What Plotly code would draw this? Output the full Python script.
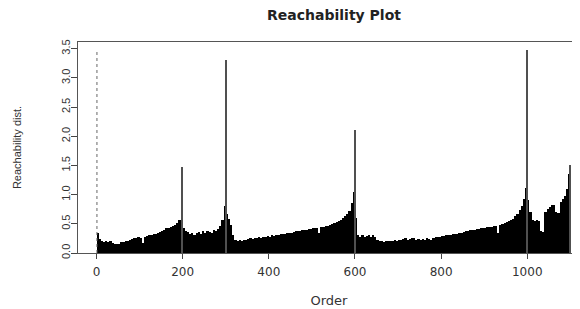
import plotly.graph_objects as go

# ---- data ----
bin_width = 5
# reachability distance per block of 5 consecutive orders, order 0..1100
reach = [
    # 0-100
    0.34, 0.24, 0.20, 0.19, 0.20, 0.19, 0.20, 0.17, 0.15, 0.15,
    0.16, 0.18, 0.19, 0.20, 0.21, 0.23, 0.24, 0.25, 0.26, 0.27,
    # 100-200
    0.26, 0.17, 0.28, 0.29, 0.30, 0.31, 0.32, 0.33, 0.35, 0.36,
    0.37, 0.39, 0.42, 0.43, 0.45, 0.46, 0.48, 0.52, 0.56, 0.66,
    # 200-300
    0.42, 0.38, 0.36, 0.33, 0.35, 0.31, 0.34, 0.36, 0.33, 0.37,
    0.35, 0.38, 0.36, 0.35, 0.39, 0.38, 0.41, 0.46, 0.56, 0.80,
    # 300-400
    0.66, 0.58, 0.48, 0.30, 0.22, 0.21, 0.22, 0.21, 0.23, 0.22,
    0.24, 0.25, 0.24, 0.26, 0.25, 0.27, 0.26, 0.28, 0.27, 0.29,
    # 400-500
    0.28, 0.30, 0.29, 0.31, 0.30, 0.32, 0.33, 0.32, 0.34, 0.35,
    0.34, 0.36, 0.37, 0.38, 0.38, 0.39, 0.40, 0.39, 0.41, 0.41,
    # 500-600
    0.42, 0.42, 0.43, 0.35, 0.44, 0.45, 0.46, 0.47, 0.48, 0.49,
    0.51, 0.53, 0.55, 0.57, 0.60, 0.63, 0.67, 0.72, 0.85, 1.05,
    # 600-700
    0.60, 0.30, 0.28, 0.30, 0.27, 0.29, 0.31, 0.27, 0.30, 0.28,
    0.22, 0.20, 0.21, 0.19, 0.20, 0.21, 0.20, 0.21, 0.22, 0.21,
    # 700-800
    0.23, 0.22, 0.24, 0.25, 0.23, 0.24, 0.26, 0.25, 0.23, 0.24,
    0.22, 0.24, 0.23, 0.25, 0.24, 0.22, 0.26, 0.27, 0.27, 0.28,
    # 800-900
    0.29, 0.29, 0.30, 0.31, 0.31, 0.32, 0.33, 0.33, 0.34, 0.35,
    0.36, 0.37, 0.38, 0.39, 0.39, 0.40, 0.41, 0.41, 0.42, 0.43,
    # 900-1000
    0.43, 0.44, 0.44, 0.45, 0.46, 0.46, 0.34, 0.48, 0.50, 0.51,
    0.53, 0.55, 0.57, 0.59, 0.63, 0.67, 0.73, 0.80, 0.92, 1.12,
    # 1000-1100
    0.90, 0.70, 0.57, 0.55, 0.56, 0.55, 0.38, 0.36, 0.70, 0.76,
    0.79, 0.82, 0.82, 0.70, 0.68, 0.88, 0.92, 0.98, 1.10, 1.35,
]
order = [bin_width * i + bin_width / 2 for i in range(len(reach))]

# isolated single-point peaks (order, reachability)
spike_order = [199.5, 299.5, 301.5, 599.5, 998.5, 1000.5, 1098.5]
spike_reach = [1.47, 1.88, 3.31, 2.10, 1.70, 3.48, 1.50]

# first point (undefined reachability, drawn dotted)
first_order = [1, 1]
first_reach = [0, 3.45]

x_ticks = [0, 200, 400, 600, 800, 1000]
y_ticks = [0, 0.5, 1, 1.5, 2, 2.5, 3, 3.5]
y_tick_text = ["0.0", "0.5", "1.0", "1.5", "2.0", "2.5", "3.0", "3.5"]

fig = go.Figure()
fig.add_trace(go.Bar(x=order, y=reach, width=bin_width,
                     marker=dict(color="black", line=dict(width=0)),
                     showlegend=False, hoverinfo="skip"))
fig.add_trace(go.Bar(x=spike_order, y=spike_reach, width=2.3,
                     marker=dict(color="#505050", line=dict(width=0)),
                     showlegend=False, hoverinfo="skip"))
fig.add_trace(go.Scatter(x=first_order, y=first_reach, mode="lines",
                         line=dict(color="#666666", width=1, dash="dot"),
                         showlegend=False, hoverinfo="skip"))

# page body has an 8px default margin: the figure is sized/placed to fit 580x309
W, H = 572, 301
fig.update_layout(
    width=W, height=H,
    margin=dict(l=70, r=0, t=34, b=56),
    paper_bgcolor="white", plot_bgcolor="white",
    barmode="overlay", bargap=0,
    title=dict(text="<b>Reachability Plot</b>", x=326 / W, xref="container",
               xanchor="center", y=1 - 2.5 / H, yref="container",
               yanchor="top",
               font=dict(family="DejaVu Sans", size=14, color="#222222")),
)
fig.update_xaxes(
    range=[-43, 1122.5], tickvals=x_ticks, ticks="outside", ticklen=5,
    tickcolor="#444444", showline=True, linecolor="#555555", linewidth=1,
    mirror=True, showgrid=False, zeroline=False,
    tickfont=dict(family="DejaVu Sans", size=12, color="#333333"),
    ticklabelstandoff=3,
    title=dict(text="Order", standoff=17,
               font=dict(family="DejaVu Sans", size=13, color="#333333")),
)
fig.update_yaxes(
    range=[0, 3.615], tickvals=y_ticks, ticktext=y_tick_text, tickangle=-90,
    ticks="outside", ticklen=6, tickcolor="#444444", showline=True,
    linecolor="#555555", linewidth=1, mirror=False, showgrid=False,
    zeroline=False, ticklabelstandoff=-3,
    tickfont=dict(family="Liberation Sans", size=11, color="#333333"),
    title=dict(text="Reachability dist.", standoff=35,
               font=dict(family="Liberation Sans", size=11, color="#333333")),
)

fig.write_html("out.html")
